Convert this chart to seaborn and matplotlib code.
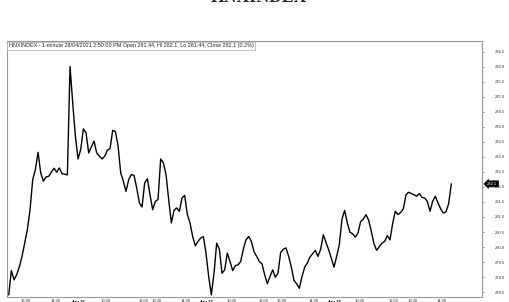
import numpy as np
import pandas as pd
import matplotlib.pyplot as plt
import matplotlib.transforms as mtrans
import seaborn as sns

# 1-minute-ish bars
close = [278.41, 279.22, 278.91, 279.08, 279.35, 279.69, 280.13, 280.58, 281.24, 282.24,
         282.58, 283.15, 282.47, 282.19, 282.33, 282.35, 282.49, 282.62, 282.49, 282.63,
         282.44, 282.42, 282.40, 286.00, 284.80, 283.69, 282.93, 283.24, 283.93, 283.80,
         283.13, 283.33, 283.52, 283.13, 283.02, 282.93, 283.02, 283.22, 283.27, 283.88,
         283.84, 283.38, 282.47, 282.19, 281.85, 282.24, 282.41, 282.38, 281.97, 281.47,
         281.33, 282.13, 282.27, 281.74, 281.24, 281.52, 281.58, 282.93, 282.80, 282.41,
         281.58, 280.80, 281.22, 281.30, 281.19, 281.63, 281.72, 281.08, 280.80, 280.35,
         280.04, 280.19, 280.30, 280.35, 279.80, 279.02, 278.41, 279.13, 280.13, 279.93,
         279.13, 279.24, 279.80, 279.52, 279.22, 279.38, 279.41, 279.52, 279.93, 280.24,
         280.35, 280.19, 279.85, 279.69, 279.52, 279.44, 279.08, 278.78, 279.02, 279.24,
         279.00, 279.13, 279.82, 279.93, 279.97, 279.69, 279.33, 278.89, 278.78, 278.63,
         279.02, 279.33, 279.47, 279.67, 279.78, 279.89, 279.69, 279.93, 280.41, 280.15,
         279.91, 279.63, 279.33, 279.69, 280.08, 280.93, 281.22, 280.80, 280.49, 280.44,
         280.33, 280.47, 280.85, 280.93, 281.08, 280.89, 280.52, 280.11, 279.89, 280.02,
         280.13, 280.19, 280.38, 280.24, 280.78, 281.19, 281.08, 281.15, 281.27, 281.74,
         281.82, 281.78, 281.74, 281.69, 281.78, 281.65, 281.63, 281.52, 281.19, 281.52,
         281.69, 281.47, 281.27, 281.13, 281.17, 281.44, 282.10]

tick_bars = [4, 15, 23, 34, 48, 53, 64, 71, 81, 93, 100, 112, 119, 129, 142, 149, 160]
tick_labels = ['13:00', '14:00', 'Apr 26', '10:00', '11:00', '13:00', '14:00', 'Apr 27',
               '10:00', '11:00', '13:00', '14:00', 'Apr 28', '10:00', '11:00', '13:00', '14:00']
price_ticks = np.arange(278.5, 286.51, 0.5)

info = ('HNXINDEX - 1-minute 28/04/2021 2:50:00 PM Open 281.44, Hi 282.1, '
        'Lo 281.44, Close 282.1 (0.2%)')

sns.set_style('white')
plt.rcParams['font.family'] = ['Liberation Sans', 'DejaVu Sans']

fig = plt.figure(figsize=(5.09, 3.02), dpi=100)
ax = fig.add_axes([7 / 509, 5 / 302, 474.7 / 509, 256 / 302])

df = pd.DataFrame({'bar': np.arange(len(close)), 'close': close})
sns.lineplot(data=df, x='bar', y='close', color='black', linewidth=1.0, ax=ax)

ax.set_xlim(-0.64, 177.4)
ax.set_ylim(278.34, 286.85)
ax.set_xlabel('')
ax.set_ylabel('')

# price axis on the right
ax.yaxis.tick_right()
ax.set_yticks(price_ticks)
ax.set_yticklabels([f'{v:.1f}' for v in price_ticks])
ax.tick_params(axis='y', direction='out', length=1.5, width=0.6, pad=8,
               labelsize=3.0, color='#888888', labelcolor='#333333')

# time axis
ax.set_xticks(tick_bars)
ax.set_xticklabels(tick_labels)
ax.tick_params(axis='x', direction='out', length=1.8, width=0.6, pad=0,
               labelsize=3.0, color='#888888', labelcolor='#333333')
shift = mtrans.ScaledTranslation(1.2 / 72, 0, fig.dpi_scale_trans)
for lbl in ax.get_xticklabels():
    lbl.set_ha('left')
    lbl.set_transform(lbl.get_transform() + shift)
    if lbl.get_text().startswith('Apr'):
        lbl.set_fontweight('bold')
        lbl.set_color('black')

for s in ax.spines.values():
    s.set_color('#999999')
    s.set_linewidth(0.8)

ax.annotate(info, xy=(0, 1), xycoords='axes fraction', xytext=(1.2, -1.8),
            textcoords='offset points', ha='left', va='top', fontsize=3.9,
            color='#222222',
            bbox=dict(boxstyle='square,pad=0.3', fc='white', ec='#aaaaaa', lw=0.5))

# last price marker
ax.annotate(f'{close[-1]:.1f}', xy=(1, close[-1]), xycoords=('axes fraction', 'data'),
            xytext=(4, 0), textcoords='offset points', ha='left', va='center',
            fontsize=3.0, color='white', annotation_clip=False,
            bbox=dict(boxstyle='larrow,pad=0.25', fc='black', ec='black', lw=0.5))

# page title, mostly cut off at the top edge as in the original screenshot
fig.text(0.509, 1 - 2.3 / 302, 'HNXINDEX', ha='center', va='baseline', fontsize=12.7,
         fontweight='bold', family='Liberation Serif')

fig.savefig('out.png', dpi=100)
